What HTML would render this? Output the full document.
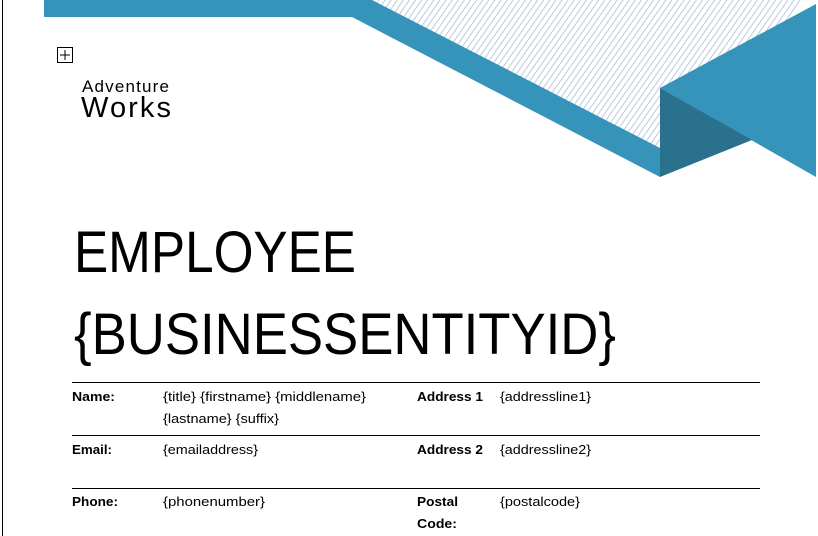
<!DOCTYPE html>
<html><head><meta charset="utf-8"><style>
html,body{margin:0;padding:0;background:#fff;width:818px;height:536px;overflow:hidden}
svg{display:block}
text{font-family:"Liberation Sans",sans-serif}
</style></head><body>
<svg width="818" height="536" viewBox="0 0 818 536">
<defs>
<pattern id="hatch" width="5" height="5" patternUnits="userSpaceOnUse" patternTransform="rotate(35)">
<rect width="5" height="5" fill="#fff"/><line x1="0" y1="0" x2="0" y2="5" stroke="#a9bdd6" stroke-width="1.6"/>
</pattern>
</defs>
<line x1="2.5" y1="0" x2="2.5" y2="536" stroke="#000" stroke-width="1"/>
<polygon points="372,0 806,0 660,150" fill="url(#hatch)"/>
<polygon points="44,0 372,0 660,148 660,177 352,17 44,17" fill="#3694bb"/>
<polygon points="816,4 816,177 660,88" fill="#3694bb"/>
<polygon points="660,88 752,140 660,177" fill="#2a718e"/>
<g>
<rect x="57.5" y="47.5" width="15" height="15" fill="#fff" stroke="#000"/>
<line x1="65" y1="50" x2="65" y2="60" stroke="#000"/><line x1="60" y1="55" x2="70" y2="55" stroke="#000"/>
</g>
<text x="82" y="92" font-size="17" textLength="87">Adventure</text>
<text x="81" y="117" font-size="29" textLength="90">Works</text>
<text x="74" y="272" font-size="58" textLength="282" lengthAdjust="spacingAndGlyphs">EMPLOYEE</text>
<text x="74" y="354" font-size="58" textLength="542" lengthAdjust="spacingAndGlyphs">{BUSINESSENTITYID}</text>
<g stroke="#000" stroke-width="1">
<line x1="72" y1="382.5" x2="760" y2="382.5"/><line x1="72" y1="435.5" x2="760" y2="435.5"/><line x1="72" y1="488.5" x2="760" y2="488.5"/>
</g>
<g font-size="13">
<text x="72" y="401" font-weight="bold" textLength="43" lengthAdjust="spacingAndGlyphs">Name:</text>
<text x="163" y="401" textLength="203" lengthAdjust="spacingAndGlyphs">{title} {firstname} {middlename}</text>
<text x="163" y="423" textLength="116" lengthAdjust="spacingAndGlyphs">{lastname} {suffix}</text>
<text x="417" y="401" font-weight="bold" textLength="66" lengthAdjust="spacingAndGlyphs">Address 1</text>
<text x="500" y="401" textLength="91" lengthAdjust="spacingAndGlyphs">{addressline1}</text>
<text x="72" y="454" font-weight="bold" textLength="40" lengthAdjust="spacingAndGlyphs">Email:</text>
<text x="163" y="454" textLength="95" lengthAdjust="spacingAndGlyphs">{emailaddress}</text>
<text x="417" y="454" font-weight="bold" textLength="66" lengthAdjust="spacingAndGlyphs">Address 2</text>
<text x="500" y="454" textLength="91" lengthAdjust="spacingAndGlyphs">{addressline2}</text>
<text x="72" y="506" font-weight="bold" textLength="46" lengthAdjust="spacingAndGlyphs">Phone:</text>
<text x="163" y="506" textLength="102" lengthAdjust="spacingAndGlyphs">{phonenumber}</text>
<text x="417" y="506" font-weight="bold" textLength="41" lengthAdjust="spacingAndGlyphs">Postal</text>
<text x="417" y="528" font-weight="bold" textLength="40" lengthAdjust="spacingAndGlyphs">Code:</text>
<text x="500" y="506" textLength="80" lengthAdjust="spacingAndGlyphs">{postalcode}</text>
</g>
</svg>
</body></html>
